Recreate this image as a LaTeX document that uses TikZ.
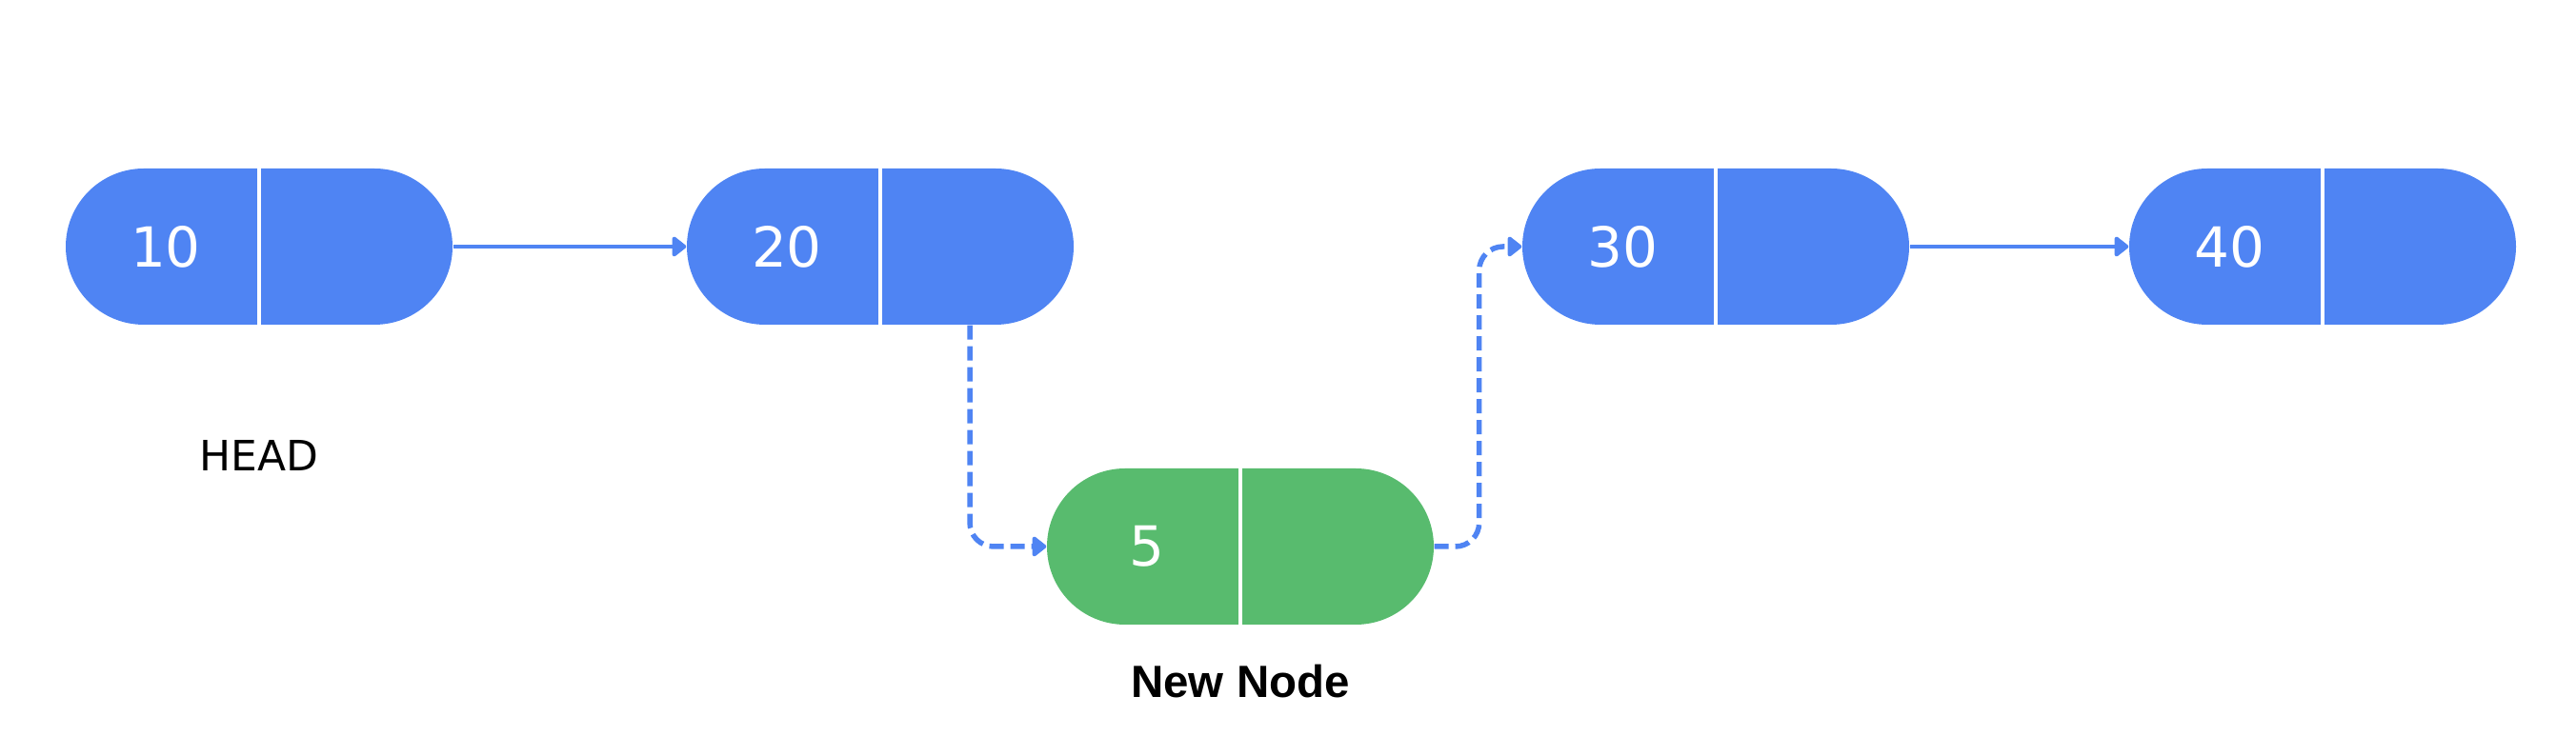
\documentclass[tikz,border=0pt]{standalone}
\usepackage{fontspec}
\setmainfont{DejaVu Sans}
\newfontfamily\captionfont{Liberation Sans}
\usetikzlibrary{shapes.misc,arrows.meta}

\definecolor{listblue}{HTML}{4F84F3}
\definecolor{listgreen}{HTML}{58BB6E}

\begin{document}
\begin{tikzpicture}[
	pill/.style={rounded rectangle, fill=listblue, minimum width=4.06cm, minimum height=1.64cm, inner sep=0pt},
	newpill/.style={pill, fill=listgreen},
	val/.style={text=white, font=\fontsize{16.5}{19}\selectfont},
	divider/.style={white, line width=0.04cm},
	link/.style={listblue, line width=0.045cm, -{Triangle[round,length=1.6mm,width=2.4mm]}},
	dashlink/.style={link, line width=0.055cm, dash pattern=on 0.15cm off 0.07cm, rounded corners=0.25cm}
]
	\useasboundingbox (0,0) rectangle (27.04,7.94);

	\node[pill] (n10) at (2.72,5.35) {};
	\node[pill] (n20) at (9.24,5.35) {};
	\node[pill] (n30) at (18.01,5.35) {};
	\node[pill] (n40) at (24.38,5.35) {};
	\node[newpill] (new) at (13.02,2.20) {};

	\foreach \n in {n10,n20,n30,n40,new}
		\draw[divider] (\n.north) -- (\n.south);

	\node[val] (v10) at ([xshift=-0.98cm]n10.center) {10};
	\node[val] (v20) at ([xshift=-0.98cm]n20.center) {20};
	\node[val] (v30) at ([xshift=-0.98cm]n30.center) {30};
	\node[val] (v40) at ([xshift=-0.98cm]n40.center) {40};
	\node[val] (v5) at ([xshift=-0.98cm]new.center) {5};

	\node[font=\fontsize{12.5}{15}\selectfont] (head) at (2.72,3.16) {HEAD};
	\node[font=\captionfont\bfseries\fontsize{13.5}{16}\selectfont] (newlabel) at (13.02,0.78) {New Node};

	\draw[link] (n10.east) -- (n20.west);
	\draw[link] (n30.east) -- (n40.west);
	\draw[dashlink] ([xshift=0.94cm]n20.south) |- (new.west);
	\draw[dashlink] (new.east) -- ++(0.47,0) |- (n30.west);
\end{tikzpicture}
\end{document}
